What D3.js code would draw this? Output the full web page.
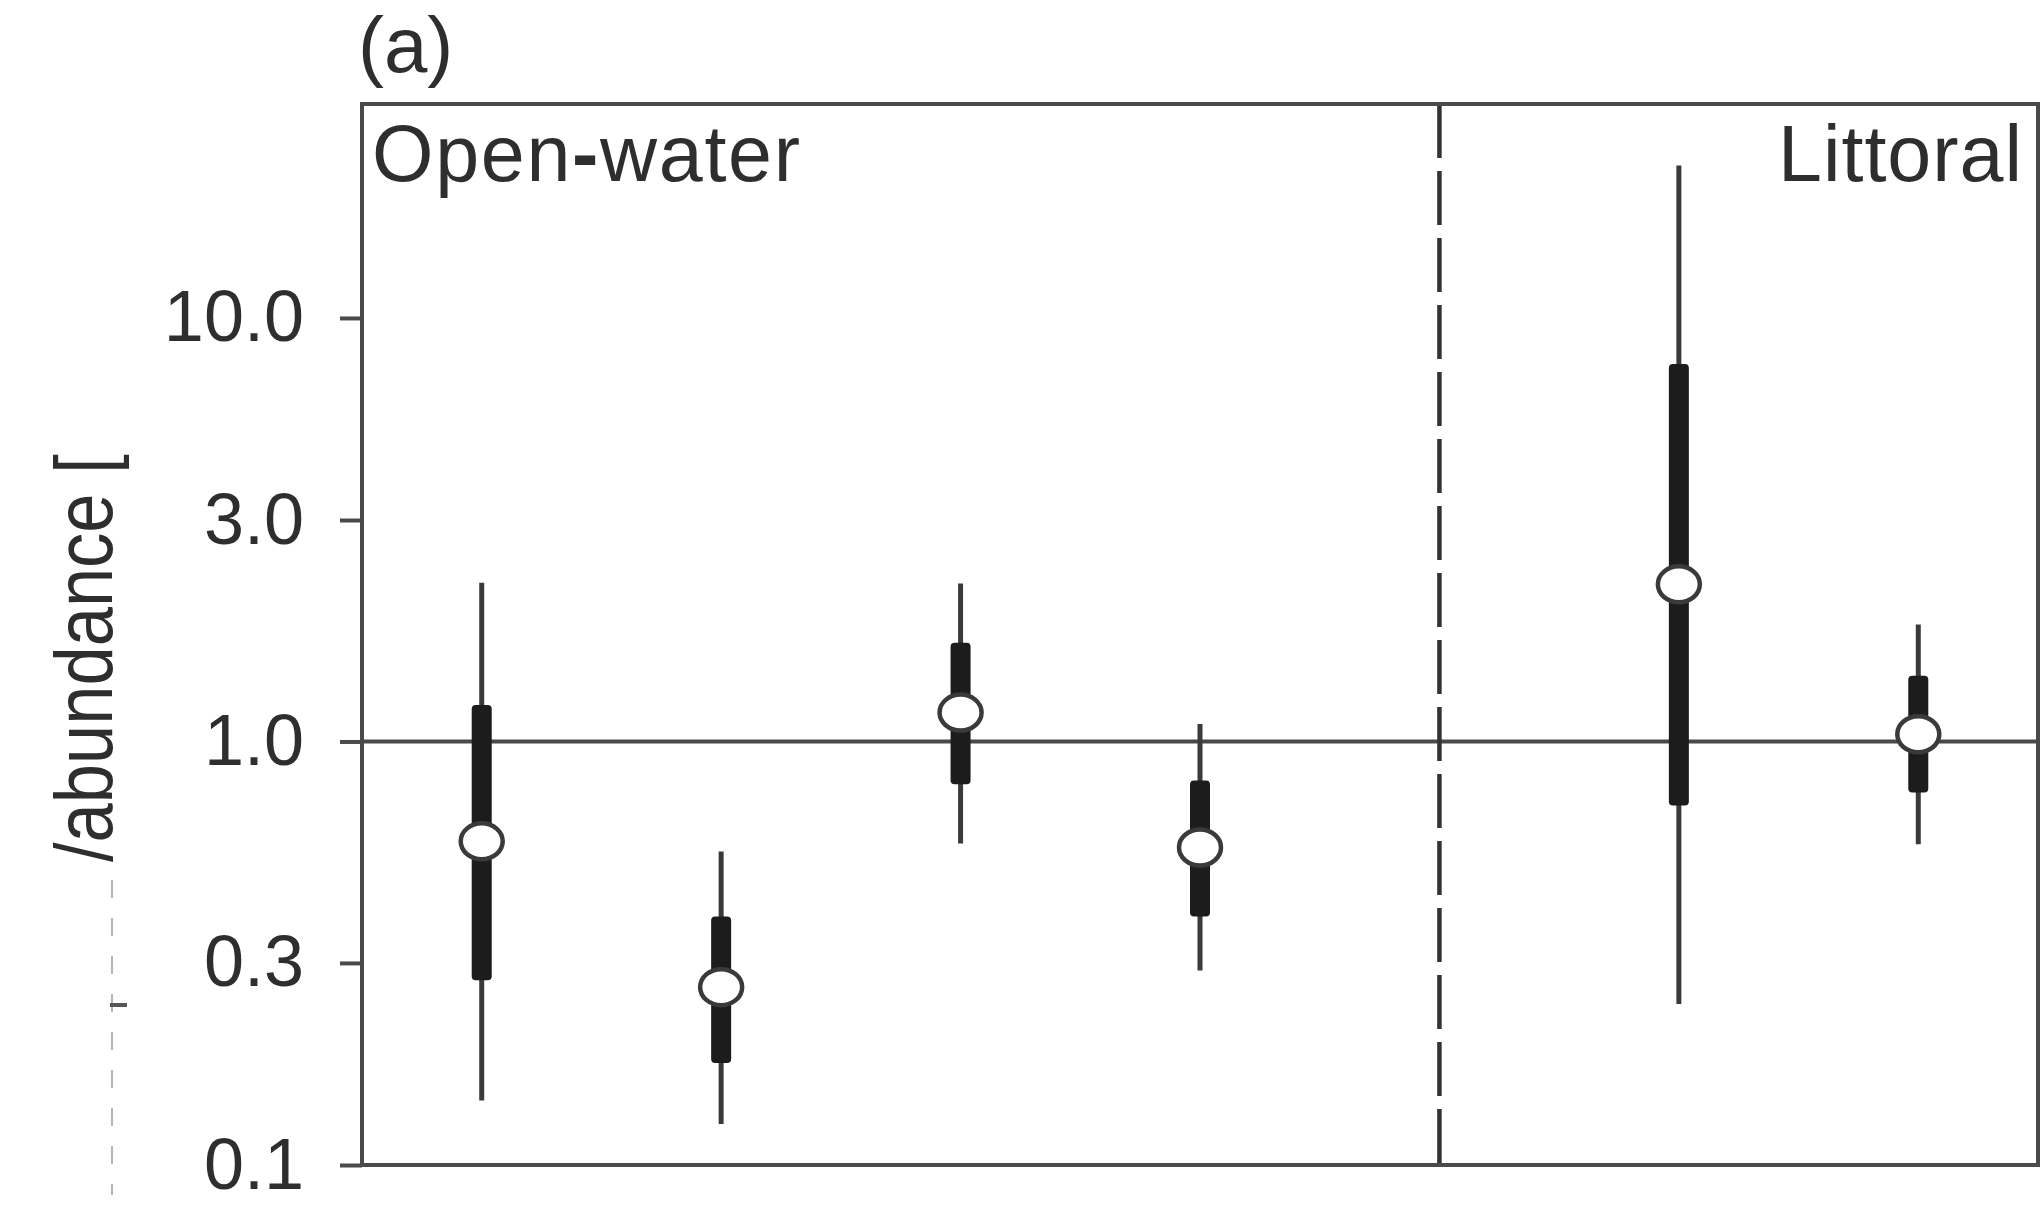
<!DOCTYPE html>
<html>
<head>
<meta charset="utf-8">
<script src="https://cdn.jsdelivr.net/npm/d3@7"></script>
<style>
  body { margin: 0; background: #fff; }
  svg { display: block; background: #fff; }
  text { font-family: "Liberation Sans", Arial, Helvetica, sans-serif; fill: #2e2e2e; }
</style>
</head>
<body>
<div id="graph"></div>
<script>
// panel (a): ratio estimates on a log axis, open-water vs littoral
var svgWidth = 2043, svgHeight = 1210;
var margin = {top: 104, right: 5, bottom: 45, left: 362};

// slots along x; "gap" is where the dashed divider sits
var categories = ["ow1", "ow2", "ow3", "ow4", "gap", "lit1", "lit2"];
var estCats = ["ow1", "ow2", "ow3", "ow4", "lit1", "lit2"];
// values
var lower95 = [0.142, 0.125, 0.574, 0.288, 0.240, 0.572];
var lower50 = [0.273, 0.174, 0.792, 0.386, 0.706, 0.758];
var medians = [0.581, 0.263, 1.17, 0.562, 2.35, 1.04];
var upper50 = [1.22, 0.386, 1.71, 0.809, 7.79, 1.43];
var upper95 = [2.37, 0.55, 2.36, 1.10, 22.9, 1.89];
// the "3.0" tick sits where 1/0.3 falls
var tickValues = [0.1, 0.3, 1, 10 / 3, 10];
var tickLabels = ["0.1", "0.3", "1.0", "3.0", "10.0"];
var yDomain = [0.1, 32];
var habitats = ["Open-water", "Littoral"];

var lineCol = "#4a4a4a";

(function makePlot() {
  var svg = d3.select('#graph').append('svg')
    .attr("width", svgWidth)
    .attr("height", svgHeight);
  var width = svgWidth - margin.left - margin.right;
  var height = svgHeight - margin.top - margin.bottom;

  var g = svg.append('g')
    .attr('transform', 'translate(' + margin.left + ',' + margin.top + ')');

  var x = d3.scaleBand()
    .domain(categories)
    .range([0, width]);
  var y = d3.scaleLog()
    .domain(yDomain)
    .range([height, 0]);

  var data = estCats.map(function(c, i) {
    return {cat: c, lo: lower95[i], q1: lower50[i], med: medians[i], q3: upper50[i], hi: upper95[i]};
  });
  function cx(d) { return x(d) + x.bandwidth() / 2; }

  // y axis
  var yAxis = g.append("g")
    .attr('class', 'axis')
    .call(d3.axisLeft(y)
      .tickValues(tickValues)
      .tickSize(22)
      .tickPadding(36)
      .tickFormat(function(d) { return tickLabels[tickValues.indexOf(d)]; }));
  yAxis.select(".domain").remove();
  yAxis.selectAll(".tick line")
    .attr("stroke", lineCol)
    .attr("stroke-width", 4);
  yAxis.selectAll(".tick text")
    .attr("fill", "#2e2e2e")
    .style("font-size", "72px")
    .style("font-family", '"Liberation Sans", Arial, sans-serif');

  // reference line at 1
  g.append("line")
    .attr("x1", 0).attr("x2", width)
    .attr("y1", y(1)).attr("y2", y(1))
    .attr("stroke", lineCol)
    .attr("stroke-width", 4);

  // divider between habitats
  g.append("line")
    .attr("x1", cx("gap")).attr("x2", cx("gap"))
    .attr("y1", 0).attr("y2", height)
    .attr("stroke", "#333")
    .attr("stroke-width", 4.5)
    .attr("stroke-dasharray", "54,13");

  // frame
  g.append("rect")
    .attr("width", width)
    .attr("height", height)
    .attr("fill", "none")
    .attr("stroke", lineCol)
    .attr("stroke-width", 4);

  var est = g.selectAll(".est")
    .data(data)
    .enter().append("g")
    .attr("class", "est");

  // 95% whiskers
  est.append("line")
    .attr("x1", function(d) { return cx(d.cat); })
    .attr("x2", function(d) { return cx(d.cat); })
    .attr("y1", function(d) { return y(d.hi); })
    .attr("y2", function(d) { return y(d.lo); })
    .attr("stroke", "#3a3a3a")
    .attr("stroke-width", 5);

  // 50% bars
  est.append("rect")
    .attr("x", function(d) { return cx(d.cat) - 10; })
    .attr("width", 20)
    .attr("y", function(d) { return y(d.q3); })
    .attr("height", function(d) { return y(d.q1) - y(d.q3); })
    .attr("rx", 4)
    .attr("fill", "#1d1b1b");

  // medians
  est.append("ellipse")
    .attr("cx", function(d) { return cx(d.cat); })
    .attr("cy", function(d) { return y(d.med); })
    .attr("rx", 21)
    .attr("ry", 18)
    .attr("fill", "#fff")
    .attr("stroke", "#3a3a3a")
    .attr("stroke-width", 4.5);

  // habitat labels
  var ow = svg.append("text")
    .attr("x", margin.left + 10)
    .attr("y", 181)
    .attr("textLength", 428)
    .style("font-size", "79px");
  var owParts = habitats[0].split("-");
  ow.append("tspan").text(owParts[0]);
  ow.append("tspan").style("font-weight", "bold").text("-");
  ow.append("tspan").text(owParts[1]);

  svg.append("text")
    .attr("x", margin.left + width - 16)
    .attr("y", 181)
    .attr("text-anchor", "end")
    .attr("textLength", 244)
    .style("font-size", "79px")
    .text(habitats[1]);

  // panel letter
  svg.append("text")
    .attr("x", 358)
    .attr("y", 72)
    .style("font-size", "78px")
    .text("(a)");

  // y label, clipped the way the source figure is
  svg.append("clipPath")
    .attr("id", "ylab-clip")
    .append("rect")
    .attr("x", 0).attr("y", 441)
    .attr("width", 140).attr("height", 421);
  svg.append("g")
    .attr("clip-path", "url(#ylab-clip)")
    .append("text")
    .attr("transform", "translate(112,862) rotate(-90) scale(0.86,1)")
    .style("font-size", "82px")
    .text("/abundance [");

  // faint dashed leftover under the label
  svg.append("line")
    .attr("x1", 112).attr("x2", 112)
    .attr("y1", 880).attr("y2", 1195)
    .attr("stroke", "#b5b5b5")
    .attr("stroke-width", 2)
    .attr("stroke-dasharray", "18,20");
  svg.append("line")
    .attr("x1", 110).attr("x2", 127)
    .attr("y1", 1005).attr("y2", 1005)
    .attr("stroke", "#555")
    .attr("stroke-width", 4);
})();
</script>
</body>
</html>
